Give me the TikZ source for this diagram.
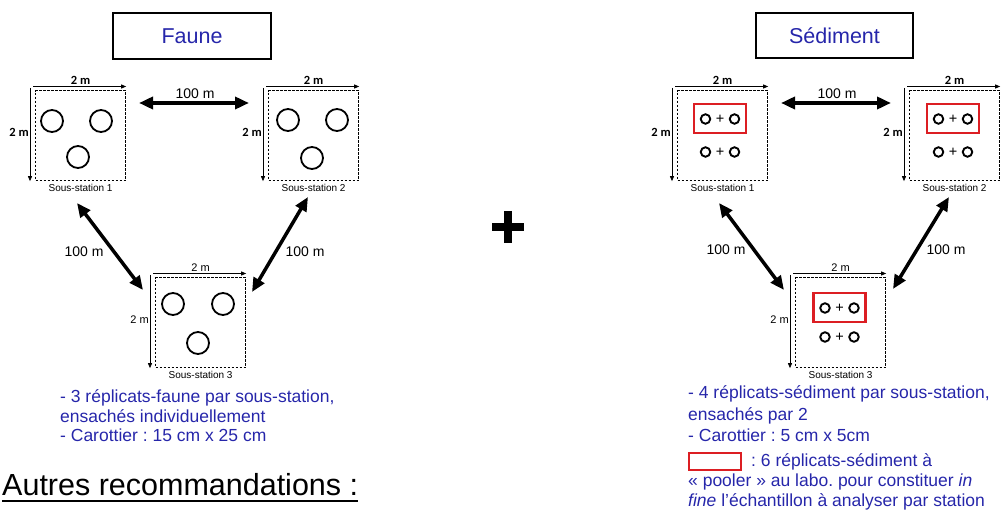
\documentclass[tikz,border=0pt]{standalone}
\usepackage{fontspec}
\setmainfont{Liberation Sans}
\newfontfamily\dimfont{Carlito}
\usetikzlibrary{arrows.meta}
\definecolor{txtblue}{RGB}{38,38,170}
\definecolor{poolred}{RGB}{220,30,35}
\frenchspacing
\begin{document}
\begin{tikzpicture}[x=1pt,y=-1pt,
  ssbox/.style={draw, line width=1.2pt, dash pattern=on 2.5pt off 1.5pt, minimum width=90pt, minimum height=90pt, inner sep=0pt, anchor=north west},
  dimarrow/.style={-{Triangle[length=5pt,width=4pt]}, line width=0.8pt},
  bigarrow/.style={{Triangle[length=14pt,width=12pt]}-{Triangle[length=14pt,width=12pt]}, line width=3.5pt},
  core/.style={circle, draw, line width=1.8pt, minimum size=22pt, inner sep=0pt},
  mini/.style={circle, draw, line width=1.9pt, minimum size=9.5pt, inner sep=0pt},
  plussign/.style={font=\fontsize{14.5}{14}\selectfont, inner sep=0pt},
  pool/.style={draw=poolred, line width=2.5pt, minimum width=52pt, minimum height=29pt, inner sep=0pt},
  dimlbl/.style={font=\dimfont\bfseries\fontsize{12.5}{12}\selectfont, inner sep=0pt},
  dimlblr/.style={font=\fontsize{11}{11}\selectfont, inner sep=0pt},
  sslbl/.style={font=\fontsize{10}{10}\selectfont, inner sep=0pt},
  dist/.style={font=\fontsize{14}{14}\selectfont, inner sep=0pt},
  titlebox/.style={draw, line width=1.1pt, minimum width=158pt, minimum height=46pt, text=txtblue, font=\fontsize{21.5}{22}\selectfont},
  desc/.style={text=txtblue, font=\fontsize{17.5}{20}\selectfont, anchor=base west, inner sep=0pt},
]
\useasboundingbox (0,0) rectangle (1002,510);

% titles
\node[titlebox] (faune) at (192,36) {Faune};
\node[titlebox, minimum width=157pt, minimum height=45pt] (sed) at (834.5,35.5) {Sédiment};

% sub-station boxes
\node[ssbox] (f1) at (35,90) {};
\node[ssbox] (f2) at (268,90) {};
\node[ssbox] (f3) at (155,277) {};
\node[ssbox] (s1) at (677,90) {};
\node[ssbox] (s2) at (909,90) {};
\node[ssbox] (s3) at (795,277) {};

% dimension arrows and labels
\foreach \b/\st in {f1/dimlbl,f2/dimlbl,f3/dimlblr,s1/dimlbl,s2/dimlbl,s3/dimlblr}{
  \draw[dimarrow] ([shift={(-2pt,3.5pt)}]\b.north west) -- ([yshift=3.5pt]\b.north east);
  \draw[dimarrow] ([shift={(-5pt,2pt)}]\b.north west) -- ([xshift=-5pt]\b.south west);
  \node[\st, anchor=south] (\b-top) at ([yshift=5pt]\b.north) {2 m};
  \node[\st, anchor=east] (\b-left) at ([shift={(-6pt,3pt)}]\b.west) {2 m};
}
\node[sslbl, anchor=north] (f1-name) at ([yshift=-3pt]f1.south) {Sous-station 1};
\node[sslbl, anchor=north] (f2-name) at ([yshift=-3pt]f2.south) {Sous-station 2};
\node[sslbl, anchor=north] (f3-name) at ([yshift=-3pt]f3.south) {Sous-station 3};
\node[sslbl, anchor=north] (s1-name) at ([yshift=-3pt]s1.south) {Sous-station 1};
\node[sslbl, anchor=north] (s2-name) at ([yshift=-3pt]s2.south) {Sous-station 2};
\node[sslbl, anchor=north] (s3-name) at ([yshift=-3pt]s3.south) {Sous-station 3};

% faune cores
\node[core] (f1a) at (52,121) {};
\node[core] (f1b) at (101,121) {};
\node[core] (f1c) at (78,157) {};
\node[core] (f2a) at (288,120) {};
\node[core] (f2b) at (337,120) {};
\node[core] (f2c) at (312,158) {};
\node[core] (f3a) at (173,304) {};
\node[core] (f3b) at (223,304) {};
\node[core] (f3c) at (198,343) {};

% sediment cores
\foreach \n/\cx/\ya/\yb in {s1/720/119/152, s2/953/119/152, s3/839.5/308/337}{
  \node[pool] (\n-pool) at (\cx,\ya-0.5) {};
  \node[mini] (\n-a1) at (\cx-14.5,\ya) {};
  \node[plussign] (\n-p1) at (\cx,\ya) {+};
  \node[mini] (\n-a2) at (\cx+14.5,\ya) {};
  \node[mini] (\n-b1) at (\cx-14.5,\yb) {};
  \node[plussign] (\n-p2) at (\cx,\yb) {+};
  \node[mini] (\n-b2) at (\cx+14.5,\yb) {};
}

% distance arrows (left)
\coordinate (fh1) at (139,103); \coordinate (fh2) at (249,103);
\coordinate (fl1) at (77,203);  \coordinate (fl2) at (143,290);
\coordinate (fr1) at (308,197); \coordinate (fr2) at (252,292);
\draw[bigarrow] (fh1) -- (fh2);
\draw[bigarrow] (fl1) -- (fl2);
\draw[bigarrow] (fr1) -- (fr2);
\node[dist] (fh-lbl) at (195,94) {100 m};
\node[dist] (fl-lbl) at (84,252) {100 m};
\node[dist] (fr-lbl) at (305,252) {100 m};

% distance arrows (right)
\coordinate (sh1) at (781,103); \coordinate (sh2) at (891,103);
\coordinate (sl1) at (719,203); \coordinate (sl2) at (784,290);
\coordinate (sr1) at (949,197); \coordinate (sr2) at (893,289);
\draw[bigarrow] (sh1) -- (sh2);
\draw[bigarrow] (sl1) -- (sl2);
\draw[bigarrow] (sr1) -- (sr2);
\node[dist] (sh-lbl) at (837,94) {100 m};
\node[dist] (sl-lbl) at (726,250) {100 m};
\node[dist] (sr-lbl) at (946,250) {100 m};

% big plus
\draw[line width=8pt] (492,227) -- (524,227);
\draw[line width=8pt] (508,211) -- (508,243);

% descriptions
\node[desc] (fd1) at (60,403) {- 3 réplicats-faune par sous-station,};
\node[desc] (fd2) at (60,422.5) {ensachés individuellement};
\node[desc] (fd3) at (60,442) {- Carottier : 15 cm x 25 cm};

\node[desc] (sd1) at (688,399) {- 4 réplicats-sédiment par sous-station,};
\node[desc] (sd2) at (688,420.5) {ensachés par 2};
\node[desc] (sd3) at (688,442) {- Carottier : 5 cm x 5cm};
\node[draw=poolred, line width=2.5pt, minimum width=52pt, minimum height=17pt, inner sep=0pt] (legend) at (715,461.5) {};
\node[desc] (sd4) at (751,467) {: 6 réplicats-sédiment à};
\node[desc] (sd5) at (688,487) {« pooler » au labo. pour constituer \textit{in}};
\node[desc] (sd6) at (688,507) {\textit{fine} l’échantillon à analyser par station};

% other recommendations
\node[anchor=base west, inner sep=0pt, font=\fontsize{30.5}{32}\selectfont] (autres) at (2,496) {Autres recommandations :};
\draw[line width=1.8pt] ([yshift=-5pt]autres.base west) -- ([yshift=-5pt]autres.base east);
\end{tikzpicture}
\end{document}
